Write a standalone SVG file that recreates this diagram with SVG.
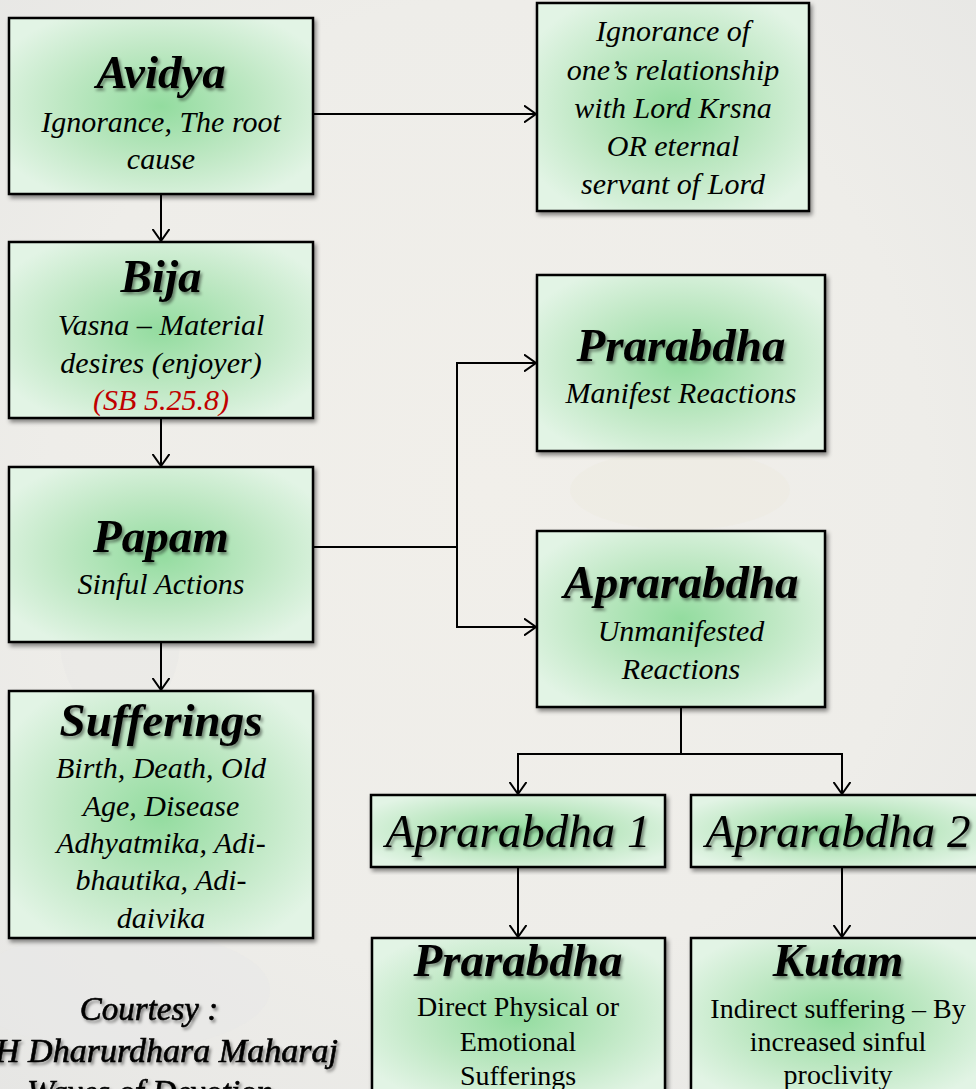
<svg xmlns="http://www.w3.org/2000/svg" width="976" height="1089" viewBox="0 0 976 1089">
<defs>
<radialGradient id="bg" cx="0.5" cy="0.45" r="0.75">
<stop offset="0" stop-color="#f1efea"/>
<stop offset="0.6" stop-color="#eeede9"/>
<stop offset="1" stop-color="#e6e6e4"/>
</radialGradient>
<radialGradient id="gf" cx="0.5" cy="0.5" r="0.6">
<stop offset="0" stop-color="#93dc9f"/>
<stop offset="0.55" stop-color="#bfe8c4"/>
<stop offset="1" stop-color="#e2f4e5"/>
</radialGradient>
<filter id="bs" x="-5%" y="-5%" width="115%" height="115%">
<feDropShadow dx="2" dy="3" stdDeviation="2" flood-color="#000" flood-opacity="0.45"/>
</filter>
<filter id="ts" x="-10%" y="-20%" width="125%" height="150%">
<feDropShadow dx="2" dy="2.5" stdDeviation="1.5" flood-color="#000" flood-opacity="0.45"/>
</filter>
<marker id="ah" viewBox="0 0 12 18" refX="12" refY="9" markerWidth="12" markerHeight="18" markerUnits="userSpaceOnUse" orient="auto">
<path d="M0,0.5 L12,9 L0,17.5" fill="none" stroke="#000" stroke-width="2"/>
</marker>
<style>
.box{fill:url(#gf);stroke:#000;stroke-width:2.5;filter:url(#bs)}
.t{font-family:"Liberation Serif",serif;font-style:italic;font-weight:bold;font-size:47px;fill:#000;text-anchor:middle;filter:url(#ts)}
.n{font-weight:normal}
.ct{font-family:"Liberation Serif",serif;font-style:italic;font-size:33px;fill:#000;stroke:#000;stroke-width:0.6;text-anchor:middle;filter:url(#ts)}
.s{font-family:"Liberation Serif",serif;font-style:italic;font-size:30px;fill:#000;text-anchor:middle}
.r{font-family:"Liberation Serif",serif;font-size:28px;fill:#000;text-anchor:middle}
.red{fill:#c00000}
.c{fill:none;stroke:#000;stroke-width:2}
</style>
</defs>
<rect x="0" y="0" width="976" height="1089" fill="url(#bg)"/>
<ellipse cx="120" cy="640" rx="60" ry="80" fill="#e6e6e6" opacity="0.35"/>
<ellipse cx="680" cy="490" rx="110" ry="40" fill="#ece8dc" opacity="0.3"/>
<ellipse cx="120" cy="990" rx="150" ry="60" fill="#e8e8e8" opacity="0.5"/>

<g id="connectors">
<line class="c" x1="313" y1="114" x2="536" y2="114" marker-end="url(#ah)"/>
<line class="c" x1="161" y1="194" x2="161" y2="241" marker-end="url(#ah)"/>
<line class="c" x1="161" y1="418" x2="161" y2="466" marker-end="url(#ah)"/>
<line class="c" x1="161" y1="642" x2="161" y2="690" marker-end="url(#ah)"/>
<polyline class="c" points="313,547 457,547"/>
<polyline class="c" points="457,547 457,363 536,363" marker-end="url(#ah)"/>
<polyline class="c" points="457,547 457,627 536,627" marker-end="url(#ah)"/>
<polyline class="c" points="681,707 681,754"/>
<polyline class="c" points="681,754 518,754 518,794" marker-end="url(#ah)"/>
<polyline class="c" points="681,754 842,754 842,794" marker-end="url(#ah)"/>
<line class="c" x1="518" y1="867" x2="518" y2="937" marker-end="url(#ah)"/>
<line class="c" x1="842" y1="867" x2="842" y2="937" marker-end="url(#ah)"/>
</g>

<g id="avidya">
<rect class="box" x="9" y="18" width="304" height="176"/>
<text class="t" x="161" y="88" font-size="49">Avidya</text>
<text class="s" x="161" y="132">Ignorance, The root</text>
<text class="s" x="161" y="169">cause</text>
</g>

<g id="ignorance">
<rect class="box" x="537" y="3" width="272" height="208"/>
<text class="s" x="673" y="41">Ignorance of</text>
<text class="s" x="673" y="80">one’s relationship</text>
<text class="s" x="673" y="118">with Lord Krsna</text>
<text class="s" x="673" y="156">OR eternal</text>
<text class="s" x="673" y="194">servant of Lord</text>
</g>

<g id="bija">
<rect class="box" x="9" y="242" width="304" height="176"/>
<text class="t" x="161" y="292" font-size="49">Bija</text>
<text class="s" x="161" y="335">Vasna – Material</text>
<text class="s" x="161" y="373">desires (enjoyer)</text>
<text class="s red" x="161" y="410">(SB 5.25.8)</text>
</g>

<g id="papam">
<rect class="box" x="9" y="467" width="304" height="175"/>
<text class="t" x="161" y="552">Papam</text>
<text class="s" x="161" y="594">Sinful Actions</text>
</g>

<g id="sufferings">
<rect class="box" x="9" y="691" width="304" height="247"/>
<text class="t" x="161" y="736">Sufferings</text>
<text class="s" x="161" y="778">Birth, Death, Old</text>
<text class="s" x="161" y="816">Age, Disease</text>
<text class="s" x="161" y="853">Adhyatmika, Adi-</text>
<text class="s" x="161" y="890">bhautika, Adi-</text>
<text class="s" x="161" y="928">daivika</text>
</g>

<g id="prarabdha">
<rect class="box" x="537" y="275" width="288" height="176"/>
<text class="t" x="681" y="361">Prarabdha</text>
<text class="s" x="681" y="403">Manifest Reactions</text>
</g>

<g id="aprarabdha">
<rect class="box" x="537" y="531" width="288" height="176"/>
<text class="t" x="681" y="598">Aprarabdha</text>
<text class="s" x="681" y="641">Unmanifested</text>
<text class="s" x="681" y="679">Reactions</text>
</g>

<g id="aprarabdha1">
<rect class="box" x="371" y="795" width="294" height="72"/>
<text class="t n" x="518" y="847" font-size="42">Aprarabdha 1</text>
</g>

<g id="aprarabdha2">
<rect class="box" x="691" y="795" width="290" height="72"/>
<text class="t n" x="838" y="847" font-size="42">Aprarabdha 2</text>
</g>

<g id="prarabdha2">
<rect class="box" x="372" y="938" width="293" height="160"/>
<text class="t" x="518" y="976" font-size="41">Prarabdha</text>
<text class="r" x="518" y="1016">Direct Physical or</text>
<text class="r" x="518" y="1051">Emotional</text>
<text class="r" x="518" y="1085">Sufferings</text>
</g>

<g id="kutam">
<rect class="box" x="691" y="938" width="290" height="160"/>
<text class="t" x="838" y="976" font-size="41">Kutam</text>
<text class="r" x="838" y="1018" font-size="26">Indirect suffering – By</text>
<text class="r" x="838" y="1051" font-size="26">increased sinful</text>
<text class="r" x="838" y="1084" font-size="26">proclivity</text>
</g>

<g id="courtesy">
<text class="ct" x="149" y="1020">Courtesy :</text>
<text class="ct" x="338" y="1062" style="text-anchor:end" textLength="343" lengthAdjust="spacingAndGlyphs">H Dharurdhara Maharaj</text>
<text class="ct" x="150" y="1103">Waves of Devotion</text>
</g>
</svg>
